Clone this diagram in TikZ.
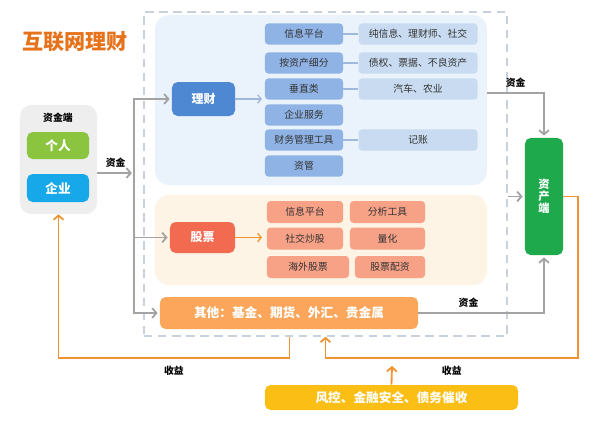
\documentclass[tikz,border=0pt]{standalone}
\usepackage{fontspec}
\setmainfont{Noto Sans CJK SC}
\usetikzlibrary{positioning, arrows.meta}
\definecolor{titleor}{RGB}{230, 114, 28}
\definecolor{lcbg}{RGB}{234, 243, 252}
\definecolor{gpbg}{RGB}{253, 244, 230}
\definecolor{lcblue}{RGB}{79, 136, 210}
\definecolor{lcmid}{RGB}{143, 179, 228}
\definecolor{lclight}{RGB}{200, 219, 241}
\definecolor{gpred}{RGB}{242, 106, 79}
\definecolor{gpsalmon}{RGB}{247, 161, 135}
\definecolor{qitaor}{RGB}{251, 166, 91}
\definecolor{zcgreen}{RGB}{30, 170, 76}
\definecolor{grgreen}{RGB}{139, 197, 63}
\definecolor{qyblue}{RGB}{22, 168, 232}
\definecolor{fkgold}{RGB}{251, 190, 20}
\definecolor{lineor}{RGB}{239, 148, 48}
\definecolor{arrgray}{RGB}{163, 163, 163}
\definecolor{framegray}{RGB}{201, 209, 220}
\definecolor{zjgray}{RGB}{238, 238, 238}
\definecolor{txt}{RGB}{51, 51, 51}
\definecolor{lcline}{RGB}{159, 184, 220}

\begin{document}
\begin{tikzpicture}[
    x=0.025cm, y=0.025cm,
    panel/.style={
        rounded corners=10pt,
        fill=#1,
        inner sep=0pt
    },
    mainbox/.style={
        rounded corners=4pt,
        fill=#1,
        text=white,
        font=\fontsize{8.5}{10}\selectfont\bfseries,
        inner sep=0pt
    },
    subbox/.style={
        rounded corners=2.5pt,
        fill=#1,
        text=txt,
        font=\fontsize{7}{8}\selectfont,
        inner sep=0pt,
        minimum height=0.53cm
    },
    lbl/.style={font=\fontsize{7}{8}\selectfont\bfseries, text=black},
    garrow/.style={-{Straight Barb[length=3pt, width=7pt]}, line width=1.3pt, draw=arrgray, shorten >=1.5pt},
    oarrow/.style={-{Straight Barb[length=3pt, width=7pt]}, line width=1.3pt, draw=lineor},
    thinarrow/.style={-{Straight Barb[length=2.5pt, width=6pt]}, line width=0.9pt, draw=#1}
]
\useasboundingbox (0,0) rectangle (600,-424);

% === Title ===
\node[font=\fontsize{15}{18}\selectfont\bfseries, text=titleor] (title) at (75,-42) {互联网理财};

% === Platform frame ===
\node[draw=framegray, line width=1pt, dash pattern=on 6pt off 4pt, minimum width=9.075cm, minimum height=8.1cm, inner sep=0pt] (frame) at (325.5,-174) {};
\node[panel=lcbg, minimum width=8.3cm, minimum height=4.25cm] (lcpanel) at (321,-100) {};
\node[panel=gpbg, minimum width=8.3cm, minimum height=2.25cm] (gppanel) at (321,-240) {};

% === Licai ===
\node[mainbox=lcblue, minimum width=1.575cm, minimum height=0.85cm] (licai) at (203.5,-99) {理财};
\node[subbox=lcmid, minimum width=1.95cm] (lc1) at (304,-34) {信息平台};
\node[subbox=lcmid, minimum width=1.95cm] (lc2) at (304,-63) {按资产细分};
\node[subbox=lcmid, minimum width=1.95cm] (lc3) at (304,-89) {垂直类};
\node[subbox=lcmid, minimum width=1.95cm] (lc4) at (304,-115) {企业服务};
\node[subbox=lcmid, minimum width=1.95cm] (lc5) at (304,-140) {财务管理工具};
\node[subbox=lcmid, minimum width=1.95cm] (lc6) at (304,-166) {资管};
\node[subbox=lclight, minimum width=2.975cm, right=0.375cm of lc1] (lr1) {纯信息、理财师、社交};
\node[subbox=lclight, minimum width=2.975cm, right=0.375cm of lc2] (lr2) {债权、票据、不良资产};
\node[subbox=lclight, minimum width=2.975cm, right=0.375cm of lc3] (lr3) {汽车、农业};
\node[subbox=lclight, minimum width=2.975cm, right=0.375cm of lc5] (lr5) {记账};
\coordinate (lcin) at (262,-99);
\draw[thinarrow=lcline] (licai.east) -- (lcin);
\foreach \i in {1,2,3,5}
    \draw[lcline, line width=0.9pt] (lc\i.east) -- (lr\i.west);

% === Gupiao ===
\node[mainbox=gpred, minimum width=1.625cm, minimum height=0.775cm] (gupiao) at (202.5,-237.5) {股票};
\node[subbox=gpsalmon, minimum width=1.9cm, minimum height=0.55cm] (gp1) at (305,-212) {信息平台};
\node[subbox=gpsalmon, minimum width=1.875cm, minimum height=0.55cm] (gp2) at (387.5,-212) {分析工具};
\node[subbox=gpsalmon, minimum width=1.9cm, minimum height=0.55cm] (gp3) at (305,-238.5) {社交炒股};
\node[subbox=gpsalmon, minimum width=1.875cm, minimum height=0.55cm] (gp4) at (387.5,-238.5) {量化};
\node[subbox=gpsalmon, minimum width=2.05cm, minimum height=0.55cm] (gp5) at (308,-267) {海外股票};
\node[subbox=gpsalmon, minimum width=1.75cm, minimum height=0.55cm] (gp6) at (390,-267) {股票配资};
\coordinate (gpin) at (262,-237.5);
\draw[thinarrow=lineor] (gupiao.east) -- (gpin);

% === Qita ===
\node[mainbox=qitaor, minimum width=6.45cm, minimum height=0.8cm, font=\fontsize{9}{10}\selectfont\bfseries] (qita) at (289,-313) {其他：基金、期货、外汇、贵金属};

% === Zichan duan ===
\node[mainbox=zcgreen, minimum width=0.95cm, minimum height=2.925cm, align=center, font=\fontsize{8}{8.4}\selectfont\bfseries] (zichan) at (544,-196.5) {资\\产\\端};

% === Zijin duan ===
\node[panel=zjgray, rounded corners=8pt, minimum width=1.925cm, minimum height=2.725cm] (zjd) at (58.5,-159.5) {};
\node[lbl] (zjdlbl) at (58,-118) {资金端};
\node[mainbox=grgreen, minimum width=1.55cm, minimum height=0.675cm, font=\fontsize{9}{10}\selectfont\bfseries] (geren) at (58,-145.5) {个人};
\node[mainbox=qyblue, minimum width=1.55cm, minimum height=0.7cm, font=\fontsize{9}{10}\selectfont\bfseries] (qiye) at (58,-188) {企业};

% === Fengkong ===
\node[mainbox=fkgold, minimum width=6.325cm, minimum height=0.625cm, font=\fontsize{9}{10}\selectfont\bfseries] (fengkong) at (391.5,-397.5) {风控、金融安全、债务催收};

% === Arrows ===
\coordinate (split) at (134,-173);
\draw[garrow] (zjd.east |- split) -- (split) node[lbl, midway, above] {资金};
\draw[garrow] (split) |- (licai.west);
\draw[garrow] (split) |- (gupiao.west);
\draw[garrow] (split) |- (qita.west);
\draw[garrow] ([yshift=0.175cm]lcpanel.east) -| (zichan.north) node[lbl, pos=0.25, above] {资金};
\draw[garrow] (frame.east |- zichan.west) -- (zichan.west);
\draw[garrow] (qita.east) -| (zichan.south) node[lbl, pos=0.2, above] {资金};

\coordinate (loopR) at (578,-358);
\coordinate (loopL) at (0,-358);
\draw[oarrow] (zichan.east) -| (loopR) -| (frame.south) node[lbl, pos=0.25, below=2pt] {收益};
\draw[oarrow] ([xshift=-0.9cm]frame.south) -- ([xshift=-0.9cm]frame.south |- loopL) -| (zjd.south) node[lbl, pos=0.25, below=2pt] {收益};
\coordinate (fkend) at (392,-366);
\draw[oarrow] (fengkong.north) -- (fkend);

\end{tikzpicture}
\end{document}
